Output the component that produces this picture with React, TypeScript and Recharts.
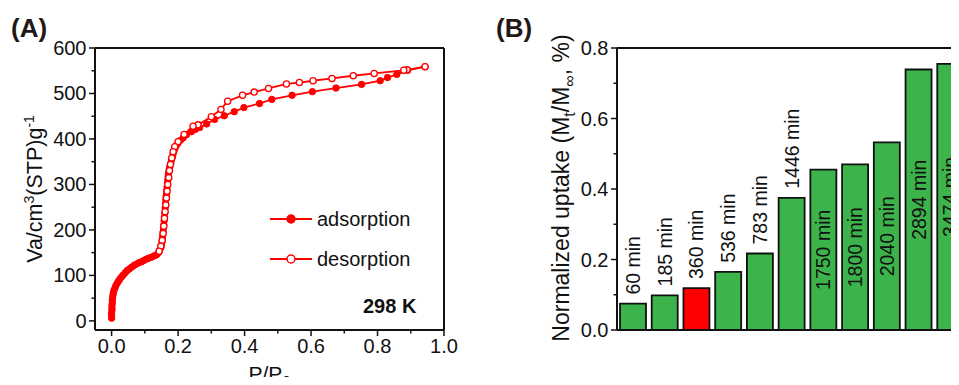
import React from "react";
import {
  LineChart,
  Line,
  XAxis,
  YAxis,
  ReferenceLine,
  Legend,
  BarChart,
  Bar,
  Cell,
  LabelList,
} from "recharts";

const FONT = "'Liberation Sans', Arial, sans-serif";
const INK = "#111111";
const RED = "#ff0000";
const GREEN = "#3cb44b";

// (A) isotherm at 298 K, [P/P0, Va]
const ADSORPTION: Array<[number, number]> = [
  [0, 6], [0, 12], [0, 17], [0.001, 23], [0.001, 28], [0.001, 34], [0.002, 39], [0.002, 45],
  [0.003, 50], [0.004, 56], [0.005, 61], [0.007, 67], [0.01, 72], [0.013, 78], [0.017, 83],
  [0.021, 88], [0.025, 92], [0.03, 97], [0.035, 101], [0.041, 106], [0.047, 111], [0.053, 114],
  [0.06, 118], [0.067, 122], [0.075, 125], [0.082, 128], [0.09, 130], [0.097, 133], [0.105, 136],
  [0.112, 138], [0.12, 140], [0.128, 143], [0.135, 145], [0.141, 150], [0.145, 156], [0.148, 161],
  [0.15, 167], [0.152, 175], [0.153, 182], [0.154, 189], [0.155, 196], [0.156, 204], [0.157, 211],
  [0.158, 220], [0.159, 229], [0.16, 238], [0.161, 248], [0.162, 257], [0.163, 266], [0.164, 274],
  [0.165, 281], [0.166, 288], [0.167, 295], [0.168, 303], [0.169, 310], [0.17, 318], [0.171, 325],
  [0.173, 332], [0.175, 339], [0.178, 347], [0.18, 354], [0.183, 361], [0.185, 367], [0.188, 374],
  [0.191, 380], [0.195, 386], [0.2, 391], [0.207, 397], [0.215, 402], [0.225, 409], [0.24, 416],
  [0.252, 421], [0.265, 425], [0.286, 433], [0.31, 443], [0.339, 451], [0.369, 460], [0.398, 469],
  [0.445, 478], [0.482, 487], [0.543, 496], [0.604, 504], [0.675, 512], [0.752, 520], [0.808, 528],
  [0.83, 535], [0.858, 542], [0.891, 551], [0.943, 559],
];

const DESORPTION: Array<[number, number]> = [
  [0.943, 559], [0.889, 552], [0.879, 551], [0.79, 544], [0.727, 539], [0.663, 533], [0.606, 528],
  [0.565, 524], [0.526, 521], [0.472, 511], [0.429, 503], [0.394, 496], [0.349, 483], [0.329, 465],
  [0.3, 449], [0.26, 431], [0.245, 428], [0.218, 410], [0.2, 394], [0.19, 383], [0.185, 372],
  [0.181, 358], [0.177, 344], [0.174, 330], [0.172, 315], [0.169, 300], [0.167, 285], [0.165, 270],
  [0.163, 255], [0.161, 240], [0.159, 225], [0.157, 208], [0.155, 192], [0.152, 177], [0.148, 164],
  [0.143, 153],
];

const P_TICKS = [0, 0.1, 0.2, 0.3, 0.4, 0.5, 0.6, 0.7, 0.8, 0.9, 1.0];
const V_TICKS = [0, 50, 100, 150, 200, 250, 300, 350, 400, 450, 500, 550, 600];

// (B) uptake
const TIMES = [
  "60 min", "185 min", "360 min", "536 min", "783 min", "1446 min",
  "1750 min", "1800 min", "2040 min", "2894 min", "3474 min",
];
const UPTAKE = [0.075, 0.098, 0.119, 0.165, 0.217, 0.375, 0.455, 0.47, 0.532, 0.739, 0.755];
const UPTAKE_TICKS = [0, 0.1, 0.2, 0.3, 0.4, 0.5, 0.6, 0.7, 0.8];
const HIGHLIGHT = "360 min";

const adsData = ADSORPTION.map(([p, v]) => ({ p, v }));
const desData = DESORPTION.map(([p, v]) => ({ p, v }));
const barData = TIMES.map((t, i) => ({ t, u: UPTAKE[i] }));

const yTick = (isMajor: (v: number) => boolean, fmt: (v: number) => string) => (props: any) => {
  const { x, y, payload } = props;
  const major = isMajor(payload.value);
  return (
    <g>
      <line x1={x} x2={x - (major ? 6 : 3.5)} y1={y} y2={y} stroke={INK} strokeWidth={1.5} />
      {major && (
        <text x={x - 8.5} y={y} dy={7} textAnchor="end" fontSize={20} fill={INK} fontFamily={FONT}>
          {fmt(payload.value)}
        </text>
      )}
    </g>
  );
};

const PTick = (props: any) => {
  const { x, y, payload } = props;
  const major = Math.round(payload.value * 10) % 2 === 0;
  return (
    <g>
      <line x1={x} x2={x} y1={y} y2={y + (major ? 6 : 3.5)} stroke={INK} strokeWidth={1.5} />
      {major && (
        <text x={x} y={y + 23} textAnchor="middle" fontSize={20} fill={INK} fontFamily={FONT}>
          {payload.value.toFixed(1)}
        </text>
      )}
    </g>
  );
};

const VTick = yTick((v) => v % 100 === 0, (v) => String(v));
const UTick = yTick((v) => Math.round(v * 10) % 2 === 0, (v) => v.toFixed(1));

const FilledDot = (props: any) => {
  const { cx, cy, index } = props;
  return <circle key={`a${index}`} cx={cx} cy={cy} r={3.2} fill={RED} stroke={RED} strokeWidth={1} />;
};

const OpenDot = (props: any) => {
  const { cx, cy, index } = props;
  return <circle key={`d${index}`} cx={cx} cy={cy} r={3.1} fill="#fff" stroke={RED} strokeWidth={1.3} />;
};

const IsoLegend = (props: any) => {
  const items = props.payload || [];
  return (
    <svg width={160} height={70}>
      {items.map((it: any, i: number) => {
        const cy = 19 + i * 40;
        return (
          <g key={it.value}>
            <line x1={2} x2={44} y1={cy} y2={cy} stroke={RED} strokeWidth={2} />
            <circle cx={23} cy={cy} r={4} fill={i === 0 ? RED : "#fff"} stroke={RED} strokeWidth={1.5} />
            <text x={49} y={cy} dy={7} fontSize={20} fill={INK} fontFamily={FONT}>
              {it.value}
            </text>
          </g>
        );
      })}
    </svg>
  );
};

const VaTitle = (props: any) => {
  const { viewBox } = props;
  const x = viewBox.x + 42;
  const y = viewBox.y + viewBox.height / 2;
  return (
    <text transform={`translate(${x},${y}) rotate(-90)`} textAnchor="middle" fontSize={21.5} fill={INK} fontFamily={FONT}>
      Va/cm<tspan fontSize={14} dy={-8}>3</tspan>
      <tspan dy={8}>(STP)g</tspan>
      <tspan fontSize={14} dy={-8}>-1</tspan>
    </text>
  );
};

const PTitle = (props: any) => {
  const { viewBox } = props;
  const x = viewBox.x + viewBox.width / 2;
  return (
    <text x={x} y={viewBox.y + 51} textAnchor="middle" fontSize={21} fill={INK} fontFamily={FONT}>
      P/P<tspan fontSize={15} dy={5}>0</tspan>
    </text>
  );
};

const UptakeTitle = (props: any) => {
  const { viewBox } = props;
  const x = viewBox.x + 89;
  const y = viewBox.y + viewBox.height / 2 - 1;
  return (
    <text transform={`translate(${x},${y}) rotate(-90)`} textAnchor="middle" fontSize={23} fill={INK} fontFamily={FONT}>
      Normalized uptake (M<tspan fontSize={16} dy={6}>t</tspan>
      <tspan dy={-6}>/M</tspan>
      <tspan fontSize={16} dy={6}>∞</tspan>
      <tspan dy={-6}>, %)</tspan>
    </text>
  );
};

const TimeLabel = (props: any) => {
  const { x, y, width, height, value } = props;
  const cx = x + width / 2;
  const inside = height > 145;
  const ty = inside ? y + height / 2 : y - 9;
  return (
    <text
      transform={`translate(${cx},${ty}) rotate(-90)`}
      dy="0.36em"
      textAnchor={inside ? "middle" : "start"}
      fontSize={19.5}
      fill={INK}
      fontFamily={FONT}
    >
      {value}
    </text>
  );
};

export default function App() {
  return (
    <div
      style={{
        position: "relative",
        width: 959,
        height: 385,
        margin: -8,
        overflow: "hidden",
        background: "#fff",
        fontFamily: FONT,
      }}
    >
      <div style={{ position: "absolute", left: 0, top: 0 }}>
        <LineChart width={480} height={385} margin={{ top: 48, right: 36, bottom: 0, left: 0 }}>
          <XAxis
            type="number"
            dataKey="p"
            domain={[-0.05, 1.0]}
            ticks={P_TICKS}
            interval={0}
            allowDataOverflow
            height={55}
            tickSize={0}
            tickMargin={0}
            tickLine={false}
            tick={PTick}
            axisLine={{ stroke: INK, strokeWidth: 2 }}
            label={<PTitle />}
          />
          <YAxis
            type="number"
            dataKey="v"
            domain={[-20, 600]}
            ticks={V_TICKS}
            interval={0}
            allowDataOverflow
            width={95}
            tickSize={0}
            tickMargin={0}
            tickLine={false}
            tick={VTick}
            axisLine={{ stroke: INK, strokeWidth: 2 }}
            label={<VaTitle />}
          />
          <ReferenceLine y={600} stroke={INK} strokeWidth={2} />
          <ReferenceLine x={1.0} stroke={INK} strokeWidth={2} />
          <Line
            data={adsData}
            dataKey="v"
            name="adsorption"
            type="linear"
            stroke={RED}
            strokeWidth={1.8}
            dot={FilledDot}
            activeDot={false}
            isAnimationActive={false}
          />
          <Line
            data={desData}
            dataKey="v"
            name="desorption"
            type="linear"
            stroke={RED}
            strokeWidth={1.8}
            dot={OpenDot}
            activeDot={false}
            isAnimationActive={false}
          />
          <Legend
            layout="horizontal"
            verticalAlign="middle"
            align="center"
            content={<IsoLegend />}
            wrapperStyle={{ left: 268, top: 200, width: 160, height: 70 }}
          />
        </LineChart>
      </div>

      <div style={{ position: "absolute", left: 480, top: 0 }}>
        <BarChart width={500} height={385} data={barData} margin={{ top: 48, right: 14, bottom: 0, left: 0 }}>
          <XAxis
            dataKey="t"
            height={55}
            tick={false}
            tickLine={false}
            axisLine={{ stroke: INK, strokeWidth: 2 }}
          />
          <YAxis
            domain={[0, 0.8]}
            ticks={UPTAKE_TICKS}
            interval={0}
            allowDataOverflow
            width={137}
            tickSize={0}
            tickMargin={0}
            tickLine={false}
            tick={UTick}
            axisLine={{ stroke: INK, strokeWidth: 2 }}
            label={<UptakeTitle />}
          />
          <ReferenceLine y={0.8} stroke={INK} strokeWidth={2} />
          <Bar dataKey="u" barSize={26} stroke={INK} strokeWidth={1.8} isAnimationActive={false}>
            {barData.map((d) => (
              <Cell key={d.t} fill={d.t === HIGHLIGHT ? RED : GREEN} />
            ))}
            <LabelList dataKey="t" content={<TimeLabel />} />
          </Bar>
        </BarChart>
      </div>

      <svg
        width={959}
        height={385}
        style={{ position: "absolute", left: 0, top: 0, pointerEvents: "none" }}
      >
        <text x={11} y={37} fontSize={26} fontWeight="bold" fill="#231815" fontFamily={FONT}>
          (A)
        </text>
        <text x={496} y={37} fontSize={26} fontWeight="bold" fill="#231815" fontFamily={FONT}>
          (B)
        </text>
        <text x={363} y={313} fontSize={20} fontWeight="bold" fill={INK} fontFamily={FONT}>
          298 K
        </text>
      </svg>
    </div>
  );
}
